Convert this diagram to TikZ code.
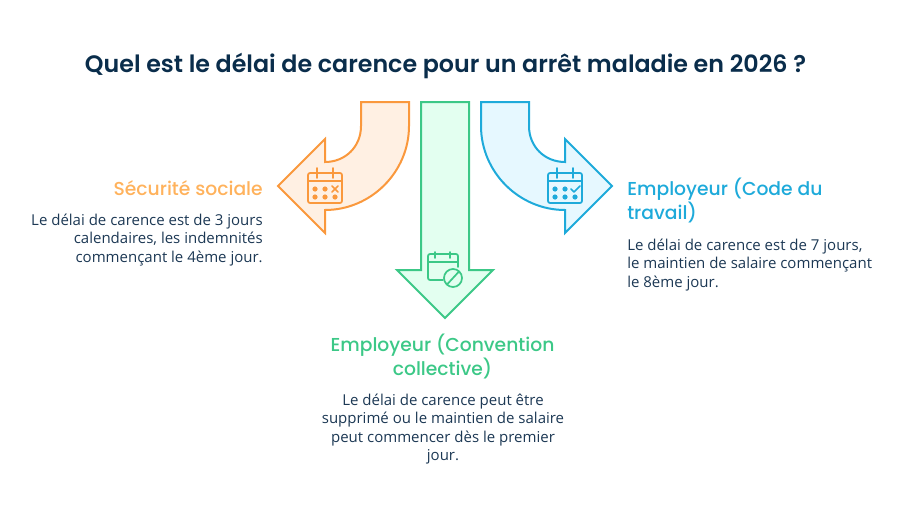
\documentclass[tikz,border=0pt]{standalone}
\usepackage{fontspec}
\setmainfont{Open Sans}
\newfontfamily\headfont{Poppins Medium}
\newfontfamily\titlefont{Poppins SemiBold}
\definecolor{titlenavy}{RGB}{10, 45, 75}
\definecolor{bodynavy}{RGB}{28, 56, 84}
\definecolor{secorange}{RGB}{250, 152, 60}
\definecolor{secorangetxt}{RGB}{255, 178, 92}
\definecolor{secorangefill}{RGB}{255, 240, 227}
\definecolor{empgreen}{RGB}{60, 200, 135}
\definecolor{empgreenfill}{RGB}{227, 255, 240}
\definecolor{empblue}{RGB}{30, 170, 218}
\definecolor{empbluefill}{RGB}{230, 248, 255}
\tikzset{
  x=0.75pt, y=-0.75pt,
  arrowshape/.style={line width=1.5pt, line join=miter, draw=#1, fill=#1fill},
  icon/.style={line width=1.3pt, draw=#1, line cap=round, line join=round},
  icondot/.style={fill=#1, draw=none},
  headtext/.style={font=\headfont\fontsize{14.05}{18}\selectfont},
  bodytext/.style={font=\fontsize{11.25}{13.9}\selectfont, text=bodynavy, inner sep=0pt},
}
\newcommand{\calpins}[2]{
  \draw[icon=#1] (#2-8,-20) -- (#2-8,-10);
  \draw[icon=#1] (#2+8,-20) -- (#2+8,-10);
}
\newcommand{\caldots}[3]{
  \foreach \dotx in {#2} \fill[icondot=#1] (\dotx,#3) circle (2.6);
}
\begin{document}
\begin{tikzpicture}
  \useasboundingbox (0,0) rectangle (902,510);
  \node[font=\titlefont\fontsize{17.82}{22}\selectfont, text=titlenavy] (title) at (445.5,66) {Quel est le délai de carence pour un arrêt maladie en 2026 ?};

  % orange arrow
  \draw[arrowshape=secorange] (409,102) -- (361,102) -- (361,126) .. controls (361,147) and (345,162) .. (325,162) -- (325,139) -- (278,186) -- (325,233) -- (325,210) .. controls (371,210) and (409,172) .. (409,126) -- cycle;
  % green arrow
  \draw[arrowshape=empgreen] (421,102) -- (469,102) -- (469,270) -- (493,270) -- (445,318) -- (397,270) -- (421,270) -- cycle;
  % blue arrow
  \draw[arrowshape=empblue] (481,102) -- (529,102) -- (529,126) .. controls (529,147) and (545,162) .. (565,162) -- (565,139) -- (612,186) -- (565,233) -- (565,210) .. controls (519,210) and (481,172) .. (481,126) -- cycle;

  % orange calendar
  \begin{scope}[shift={(325,188)}]
    \draw[icon=secorange, rounded corners=1.5pt] (-17,-15) rectangle (17,15);
    \draw[icon=secorange] (-17,-7) -- (17,-7);
    \calpins{secorange}{0}
    \caldots{secorange}{-10,0}{1}
    \caldots{secorange}{-10,0,10}{9}
    \draw[icon=secorange] (7,-2) -- (13,4) (13,-2) -- (7,4);
  \end{scope}
  % blue calendar
  \begin{scope}[shift={(565,188)}]
    \draw[icon=empblue, rounded corners=1.5pt] (-17,-15) rectangle (17,15);
    \draw[icon=empblue] (-17,-7) -- (17,-7);
    \calpins{empblue}{0}
    \caldots{empblue}{-10,0}{1}
    \caldots{empblue}{-10,0,10}{9}
    \draw[icon=empblue] (6,1) -- (9,4) -- (15,-2);
  \end{scope}
  % green calendar
  \draw[icon=empgreen, rounded corners=1.5pt] (443,280) -- (428,280) -- (428,254) -- (458,254) -- (458,267);
  \draw[icon=empgreen] (428,262) -- (458,262);
  \draw[icon=empgreen] (435,252) -- (435,258) (450,252) -- (450,258);
  \draw[icon=empgreen] (453,278) circle (9);
  \draw[icon=empgreen] (447,284.5) -- (459,271.5);

  % left block
  \node[headtext, text=secorangetxt, anchor=east, inner sep=0pt] (secuhead) at (263,188.5) {Sécurité sociale};
  \node[bodytext, align=right, anchor=north east] (secubody) at (263,213.5) {Le délai de carence est de 3 jours\\calendaires, les indemnités\\commençant le 4ème jour.};
  % middle block
  \node[headtext, text=empgreen, align=center, inner sep=0pt] (convhead) at (442.5,356.5) {Employeur (Convention\\collective)};
  \node[bodytext, align=center, anchor=north] (convbody) at (443,393.5) {Le délai de carence peut être\\supprimé ou le maintien de salaire\\peut commencer dès le premier\\jour.};
  % right block
  \node[headtext, text=empblue, align=left, anchor=west, inner sep=0pt] (codehead) at (627,200.5) {Employeur (Code du\\travail)};
  \node[bodytext, align=left, anchor=north west] (codebody) at (627,238.5) {Le délai de carence est de 7 jours,\\le maintien de salaire commençant\\le 8ème jour.};
\end{tikzpicture}
\end{document}
